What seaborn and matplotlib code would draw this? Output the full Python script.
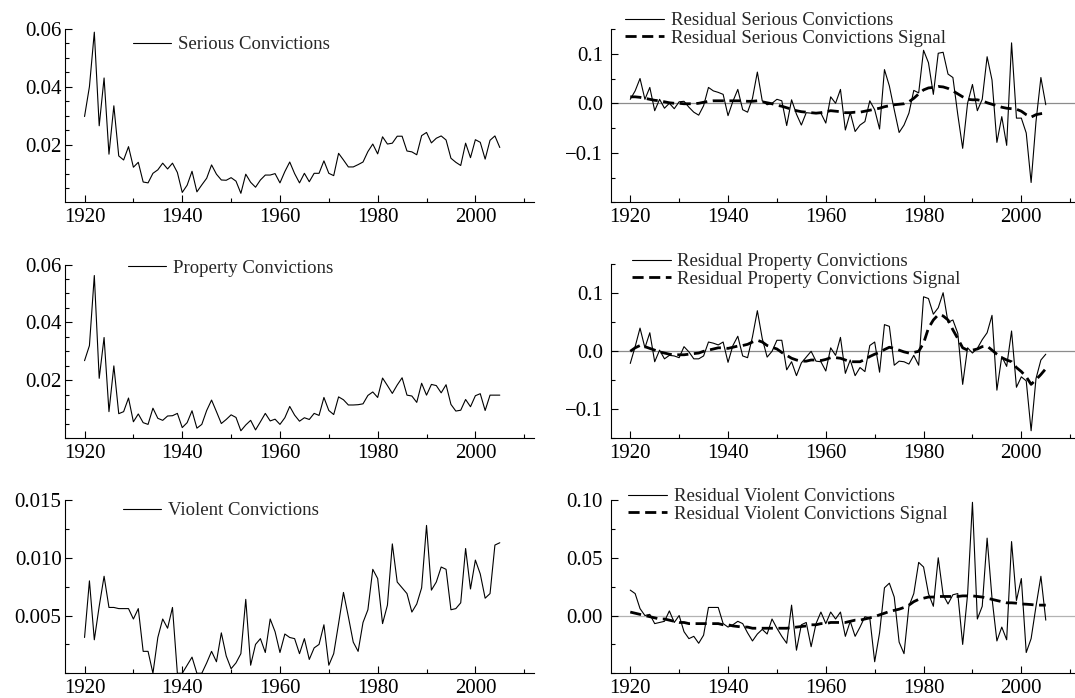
import matplotlib
matplotlib.use("Agg")
import matplotlib.pyplot as plt
import seaborn as sns
import pandas as pd
from matplotlib.ticker import MultipleLocator, FixedLocator, FuncFormatter

sns.set_style("ticks")
plt.rcParams['font.family'] = ['Liberation Serif', 'DejaVu Serif']
plt.rcParams['axes.unicode_minus'] = True

years = list(range(1920, 2006))

serious = [0.0298, 0.0401, 0.0589, 0.0266, 0.0431, 0.0168, 0.0335, 0.0162, 0.0148, 0.0194,
           0.0123, 0.0140, 0.0072, 0.0069, 0.0102, 0.0114, 0.0137, 0.0117, 0.0137, 0.0105,
           0.0036, 0.0061, 0.0109, 0.0038, 0.0062, 0.0085, 0.0131, 0.0099, 0.0079, 0.0078,
           0.0087, 0.0075, 0.0033, 0.0099, 0.0071, 0.0054, 0.0079, 0.0096, 0.0096, 0.0101,
           0.0069, 0.0108, 0.0141, 0.0101, 0.0069, 0.0102, 0.0073, 0.0102, 0.0102, 0.0145,
           0.0102, 0.0094, 0.0171, 0.0148, 0.0124, 0.0124, 0.0132, 0.0141, 0.0177, 0.0203,
           0.0169, 0.0228, 0.0203, 0.0206, 0.0230, 0.0230, 0.0179, 0.0176, 0.0166, 0.0232,
           0.0243, 0.0207, 0.0223, 0.0231, 0.0217, 0.0154, 0.0140, 0.0129, 0.0206, 0.0156,
           0.0218, 0.0209, 0.0151, 0.0216, 0.0231, 0.0191]

property_ = [0.0268, 0.0320, 0.0562, 0.0207, 0.0348, 0.0092, 0.0250, 0.0085, 0.0092, 0.0139,
             0.0057, 0.0084, 0.0054, 0.0048, 0.0104, 0.0069, 0.0062, 0.0077, 0.0078, 0.0086,
             0.0037, 0.0054, 0.0095, 0.0035, 0.0048, 0.0096, 0.0132, 0.0092, 0.0051, 0.0065,
             0.0081, 0.0072, 0.0026, 0.0046, 0.0062, 0.0029, 0.0057, 0.0086, 0.0060, 0.0066,
             0.0048, 0.0071, 0.0110, 0.0080, 0.0059, 0.0071, 0.0065, 0.0086, 0.0079, 0.0141,
             0.0096, 0.0082, 0.0143, 0.0133, 0.0115, 0.0115, 0.0116, 0.0119, 0.0148, 0.0160,
             0.0141, 0.0208, 0.0182, 0.0155, 0.0184, 0.0209, 0.0149, 0.0146, 0.0124, 0.0190,
             0.0149, 0.0186, 0.0182, 0.0157, 0.0185, 0.0117, 0.0094, 0.0097, 0.0134, 0.0109,
             0.0147, 0.0154, 0.0096, 0.0149, 0.0149, 0.0149]

violent = [0.0031, 0.0080, 0.0029, 0.0058, 0.0084, 0.0057, 0.0057, 0.0056, 0.0056, 0.0056,
           0.0047, 0.0056, 0.0019, 0.0019, 0.0000, 0.0031, 0.0047, 0.0039, 0.0057, 0.0000,
           0.0000, 0.0007, 0.0014, 0.0000, 0.0000, 0.0009, 0.0019, 0.0010, 0.0035, 0.0015,
           0.0004, 0.0009, 0.0017, 0.0064, 0.0007, 0.0025, 0.0030, 0.0018, 0.0047, 0.0036,
           0.0018, 0.0034, 0.0031, 0.0030, 0.0017, 0.0030, 0.0012, 0.0022, 0.0025, 0.0042,
           0.0007, 0.0017, 0.0043, 0.0070, 0.0049, 0.0027, 0.0019, 0.0044, 0.0055, 0.0090,
           0.0082, 0.0043, 0.0059, 0.0112, 0.0079, 0.0074, 0.0069, 0.0053, 0.0060, 0.0074,
           0.0128, 0.0072, 0.0079, 0.0092, 0.0090, 0.0055, 0.0056, 0.0061, 0.0108, 0.0073,
           0.0098, 0.0086, 0.0065, 0.0069, 0.0111, 0.0113]

res_serious = [0.008, 0.025, 0.050, 0.008, 0.032, -0.015, 0.008, -0.010, 0.000, -0.011,
               0.003, 0.004, -0.008, -0.018, -0.024, -0.005, 0.032, 0.025, 0.022, 0.018,
               -0.025, 0.004, 0.028, -0.013, -0.018, 0.010, 0.063, 0.005, -0.003, 0.000,
               0.008, 0.005, -0.045, 0.007, -0.022, -0.044, -0.019, -0.020, -0.020, -0.020,
               -0.040, 0.013, 0.000, 0.028, -0.054, -0.019, -0.057, -0.044, -0.037, 0.005,
               -0.013, -0.052, 0.068, 0.035, -0.013, -0.059, -0.044, -0.020, 0.026, 0.021,
               0.107, 0.082, 0.018, 0.101, 0.103, 0.059, 0.052, -0.023, -0.091, 0.000,
               0.038, -0.015, 0.008, 0.094, 0.047, -0.079, -0.027, -0.085, 0.122, -0.030,
               -0.030, -0.060, -0.160, -0.037, 0.052, -0.003]

sig_serious = [0.013, 0.013, 0.012, 0.010, 0.008, 0.006, 0.005, 0.003, 0.001, 0.000,
               0.000, -0.001, -0.001, -0.001, 0.000, 0.002, 0.004, 0.005, 0.005, 0.005,
               0.005, 0.005, 0.005, 0.005, 0.004, 0.004, 0.005, 0.003, 0.001, -0.001,
               -0.004, -0.006, -0.009, -0.012, -0.015, -0.017, -0.018, -0.019, -0.020, -0.019,
               -0.017, -0.015, -0.016, -0.017, -0.019, -0.019, -0.018, -0.018, -0.016, -0.014,
               -0.012, -0.010, -0.007, -0.005, -0.003, -0.002, -0.001, 0.003, 0.010, 0.019,
               0.027, 0.031, 0.032, 0.034, 0.033, 0.030, 0.025, 0.019, 0.013, 0.008,
               0.007, 0.007, 0.005, 0.001, -0.002, -0.005, -0.008, -0.010, -0.011, -0.012,
               -0.016, -0.023, -0.028, -0.023, -0.021, -0.020]

res_property = [-0.021, 0.008, 0.040, 0.006, 0.032, -0.018, 0.002, -0.013, -0.007, -0.008,
                -0.011, 0.008, -0.001, -0.013, -0.013, -0.008, 0.016, 0.014, 0.011, 0.016,
                -0.019, 0.010, 0.026, -0.008, -0.011, 0.025, 0.070, 0.022, -0.010, 0.000,
                0.019, 0.019, -0.032, -0.018, -0.042, -0.020, -0.010, 0.000, -0.017, -0.018,
                -0.034, 0.006, -0.007, 0.024, -0.038, -0.015, -0.042, -0.028, -0.035, 0.010,
                0.016, -0.036, 0.046, 0.043, -0.024, -0.017, -0.018, -0.022, -0.007, -0.024,
                0.094, 0.091, 0.064, 0.075, 0.101, 0.050, 0.054, 0.031, -0.057, 0.006,
                -0.003, 0.005, 0.020, 0.032, 0.062, -0.067, -0.009, -0.026, 0.035, -0.062,
                -0.044, -0.051, -0.137, -0.047, -0.015, -0.005]

sig_property = [0.000, 0.006, 0.010, 0.008, 0.005, 0.002, -0.001, -0.003, -0.005, -0.006,
                -0.006, -0.006, -0.005, -0.004, -0.003, 0.000, 0.002, 0.004, 0.006, 0.006,
                0.005, 0.007, 0.009, 0.010, 0.012, 0.016, 0.019, 0.016, 0.010, 0.007,
                0.004, -0.002, -0.007, -0.012, -0.015, -0.017, -0.017, -0.015, -0.015, -0.016,
                -0.014, -0.011, -0.011, -0.012, -0.015, -0.018, -0.018, -0.018, -0.014, -0.009,
                -0.005, -0.002, 0.003, 0.007, 0.005, 0.002, -0.001, -0.003, -0.002, 0.000,
                0.014, 0.040, 0.054, 0.063, 0.061, 0.054, 0.037, 0.022, 0.006, 0.002,
                0.002, 0.004, 0.008, 0.009, 0.002, -0.005, -0.011, -0.015, -0.018, -0.028,
                -0.035, -0.044, -0.057, -0.049, -0.040, -0.030]

res_violent = [0.022, 0.019, 0.006, 0.000, 0.001, -0.007, -0.006, -0.005, 0.004, -0.006,
               0.000, -0.014, -0.020, -0.018, -0.024, -0.017, 0.007, 0.007, 0.007, -0.007,
               -0.010, -0.008, -0.005, -0.007, -0.015, -0.022, -0.016, -0.012, -0.016, -0.003,
               -0.011, -0.018, -0.024, 0.009, -0.030, -0.008, -0.006, -0.027, -0.007, 0.003,
               -0.007, 0.003, -0.003, 0.003, -0.018, -0.005, -0.018, -0.010, -0.001, -0.002,
               -0.040, -0.015, 0.024, 0.028, 0.016, -0.023, -0.033, 0.008, 0.019, 0.046,
               0.042, 0.019, 0.008, 0.050, 0.018, 0.010, 0.018, 0.019, -0.025, 0.018,
               0.098, -0.003, 0.008, 0.067, 0.015, -0.022, -0.010, -0.021, 0.064, 0.013,
               0.032, -0.032, -0.020, 0.008, 0.034, -0.004]

sig_violent = [0.003, 0.002, 0.001, 0.000, -0.001, -0.002, -0.003, -0.003, -0.004, -0.005,
               -0.006, -0.006, -0.007, -0.007, -0.007, -0.007, -0.007, -0.007, -0.007, -0.008,
               -0.008, -0.009, -0.0095, -0.010, -0.010, -0.011, -0.011, -0.011, -0.011, -0.011,
               -0.011, -0.011, -0.011, -0.0105, -0.010, -0.0095, -0.009, -0.008, -0.008, -0.007,
               -0.007, -0.006, -0.006, -0.006, -0.006, -0.005, -0.004, -0.004, -0.003, -0.002,
               -0.001, 0.0006, 0.002, 0.0035, 0.0045, 0.0055, 0.007, 0.009, 0.012, 0.014,
               0.015, 0.016, 0.016, 0.0165, 0.0165, 0.0165, 0.0165, 0.0165, 0.017, 0.017,
               0.017, 0.0165, 0.016, 0.015, 0.014, 0.013, 0.012, 0.011, 0.011, 0.0107,
               0.010, 0.0098, 0.0095, 0.009, 0.009, 0.009]

# tick labels shown on each panel
ticks_serious = [0.02, 0.04, 0.06]
ticks_property = [0.02, 0.04, 0.06]
ticks_violent = [0.005, 0.010, 0.015]
ticks_res_serious = [-0.1, 0.0, 0.1]
ticks_res_property = [-0.1, 0.0, 0.1]
ticks_res_violent = [0.00, 0.05, 0.10]

W, H = 1075, 698
fig = plt.figure(figsize=(W / 100, H / 100), dpi=100)


def rect(left, top, right, bottom):
    return [left / W, 1 - bottom / H, (right - left) / W, (bottom - top) / H]


def make_fmt(nd):
    return FuncFormatter(lambda v, p: f"{v:.{nd}f}".replace('-', '\u2212'))


def style_ax(ax, ylim, major_ticks, minor, nd, ypad):
    ax.set_xlim(1916, 2012)
    ax.set_ylim(*ylim)
    ax.xaxis.set_major_locator(MultipleLocator(20))
    ax.xaxis.set_minor_locator(MultipleLocator(10))
    ax.yaxis.set_major_locator(FixedLocator(major_ticks))
    ax.yaxis.set_minor_locator(MultipleLocator(minor))
    ax.yaxis.set_major_formatter(make_fmt(nd))
    for s in ['top', 'right']:
        ax.spines[s].set_visible(False)
    for s in ['left', 'bottom']:
        ax.spines[s].set_linewidth(0.8)
        ax.spines[s].set_color('black')
    ax.tick_params(axis='both', which='both', direction='in', color='black', width=0.8,
                   labelsize=15, labelcolor='black')
    ax.tick_params(axis='both', which='major', length=5)
    ax.tick_params(axis='both', which='minor', length=3)
    ax.tick_params(axis='x', which='major', pad=4)
    ax.tick_params(axis='y', which='major', pad=ypad)
    ax.set_xlabel('')
    ax.set_ylabel('')
    ax.set_facecolor('white')


def add_legend(ax, px, py, hl, htp):
    h, l = ax.get_legend_handles_labels()
    ax.legend(h, l, loc='upper left', bbox_to_anchor=(px / W, 1 - py / H),
              bbox_transform=fig.transFigure, frameon=False, borderpad=0,
              borderaxespad=0, handlelength=hl, handletextpad=htp,
              labelspacing=0.02, fontsize=13.5)


# Left column
left_specs = [
    (serious, 'Serious Convictions', (65, 29, 534, 202), (0.0003, 0.06), ticks_serious, 0.005, 2, (133, 36)),
    (property_, 'Property Convictions', (65, 264.5, 534, 438.3), (0.0, 0.06), ticks_property, 0.005, 2, (128, 259.5)),
    (violent, 'Violent Convictions', (65, 500, 534, 673.3), (0.0, 0.015), ticks_violent, 0.0025, 3, (123, 502)),
]
for vals, lab, r, ylim, mt, mn, nd, lp in left_specs:
    ax = fig.add_axes(rect(*r))
    df = pd.DataFrame({'year': years, 'value': vals})
    sns.lineplot(data=df, x='year', y='value', ax=ax, color='black', lw=0.8, label=lab)
    style_ax(ax, ylim, mt, mn, nd, 2.5)
    add_legend(ax, lp[0], lp[1], 2.0, 0.4)

# Right column
right_specs = [
    (res_serious, sig_serious, 'Residual Serious Convictions', (610.7, 29, 1080, 202.3), (-0.2, 0.15), ticks_res_serious, 0.05, 1, (625, 12), '0.55'),
    (res_property, sig_property, 'Residual Property Convictions', (610.7, 264.3, 1080, 438.3), (-0.15, 0.15), ticks_res_property, 0.05, 1, (631.7, 253), '0.55'),
    (res_violent, sig_violent, 'Residual Violent Convictions', (610.7, 500, 1080, 673.3), (-0.05, 0.10), ticks_res_violent, 0.025, 2, (628, 488), '0.7'),
]
for res, sig, lab, r, ylim, mt, mn, nd, lp, zc in right_specs:
    ax = fig.add_axes(rect(*r))
    ax.axhline(0, color=zc, lw=0.9, zorder=0)
    df = pd.DataFrame({'year': years, 'res': res, 'sig': sig})
    sns.lineplot(data=df, x='year', y='res', ax=ax, color='black', lw=0.8, label=lab)
    sns.lineplot(data=df, x='year', y='sig', ax=ax, color='black', lw=2.0, label=lab + ' Signal')
    ax.lines[-1].set_dashes([4, 2])
    style_ax(ax, ylim, mt, mn, nd, 5.5)
    add_legend(ax, lp[0], lp[1], 2.1, 0.33)

fig.savefig('out.png', dpi=100, facecolor='white')
